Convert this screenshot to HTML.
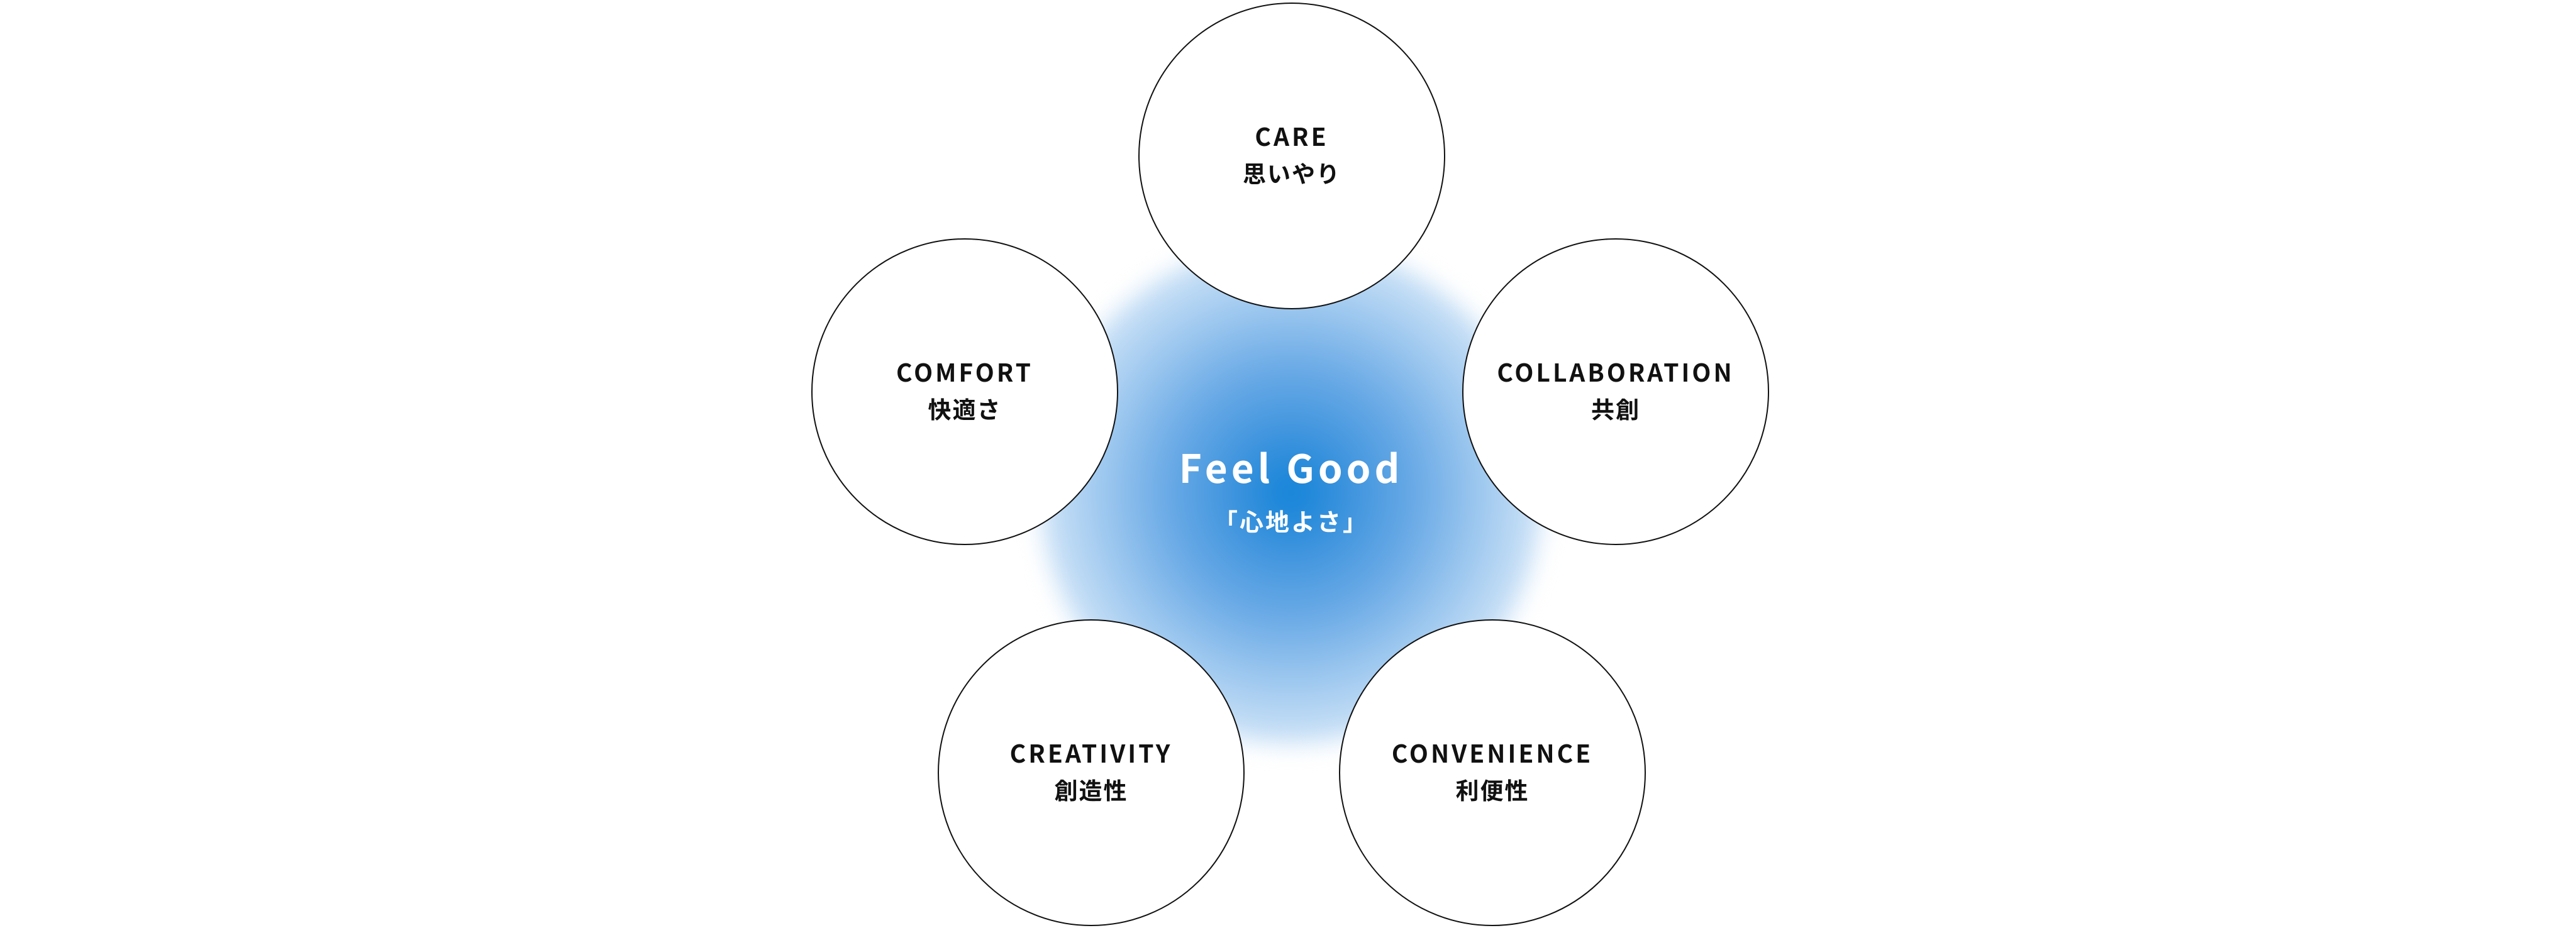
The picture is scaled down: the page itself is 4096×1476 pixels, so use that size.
<!DOCTYPE html>
<html><head><meta charset="utf-8"><style>
html,body{margin:0;padding:0;width:4096px;height:1476px;background:#fff;overflow:hidden;position:relative;font-family:"Liberation Sans","Noto Sans CJK JP",sans-serif;}
.glow{position:absolute;left:1653px;top:384px;width:800px;height:800px;border-radius:50%;filter:blur(18px);
background:radial-gradient(circle at center,#1283d8 0%,#3a92dd 15%,#6aaae6 35%,#a3cbf0 55%,#d3e6f8 72%,#f0f6fd 85%,rgba(255,255,255,0) 100%);}
.c{position:absolute;width:484px;height:484px;margin-left:-243px;margin-top:-243px;border:2px solid #111;border-radius:50%;background:#fff;box-sizing:content-box;}
.t{position:absolute;left:0;right:0;top:181px;text-align:center;color:#111;font-family:"Noto Sans CJK JP",sans-serif;font-weight:700;}
.t .e{font-size:39px;letter-spacing:4px;line-height:58px;}
.t .j{font-size:37px;letter-spacing:2px;line-height:58px;}
.center{position:absolute;left:1753px;width:600px;text-align:center;color:#fff;font-family:"Noto Sans CJK JP",sans-serif;font-weight:700;}
</style></head><body>
<div class="glow"></div>
<div class="c" style="left:2053px;top:247px"><div class="t"><div class="e">CARE</div><div class="j">思いやり</div></div></div>
<div class="c" style="left:1533px;top:622px"><div class="t"><div class="e">COMFORT</div><div class="j">快適さ</div></div></div>
<div class="c" style="left:2568px;top:622px"><div class="t"><div class="e">COLLABORATION</div><div class="j">共創</div></div></div>
<div class="c" style="left:1734px;top:1228px"><div class="t"><div class="e">CREATIVITY</div><div class="j">創造性</div></div></div>
<div class="c" style="left:2372px;top:1228px"><div class="t"><div class="e">CONVENIENCE</div><div class="j">利便性</div></div></div>
<div class="center" style="top:696px;font-size:62px;letter-spacing:6px;line-height:90px;">Feel Good</div>
<div class="center" style="top:800px;font-size:38px;letter-spacing:3px;line-height:56px;">「心地よさ」</div>
</body></html>
